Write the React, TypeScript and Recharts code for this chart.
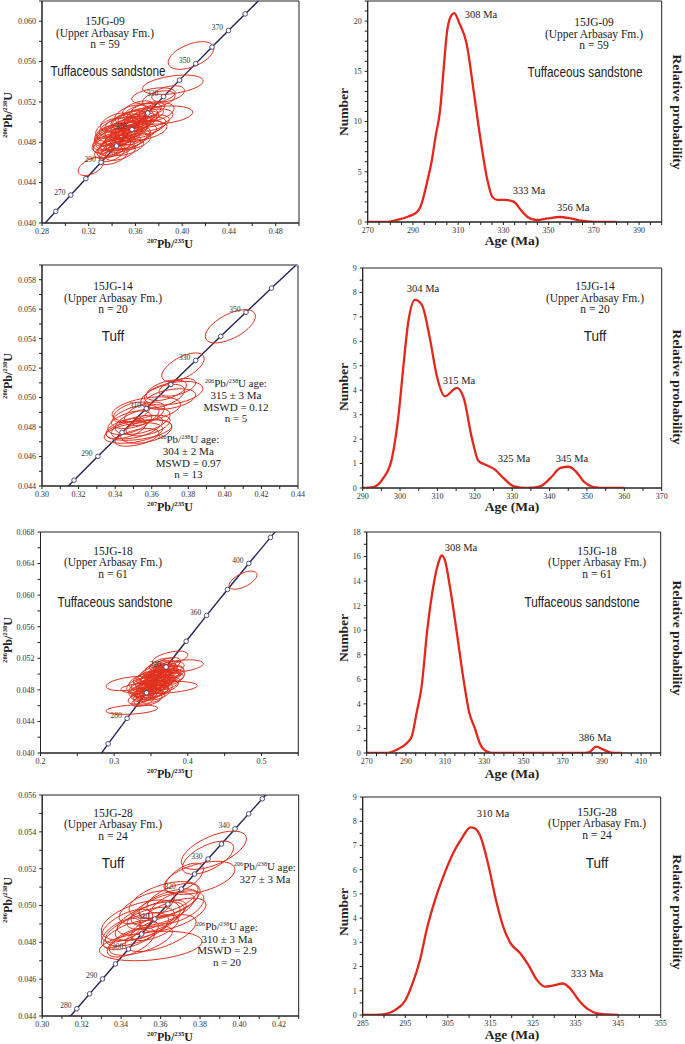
import React from 'react';
import { ScatterChart, LineChart, Scatter, Line, XAxis, YAxis, ReferenceArea } from 'recharts';

const SERIF = "'Liberation Serif', 'Times New Roman', serif";
const SANS = "'Liberation Sans', Arial, sans-serif";
const RED = '#e4261b';
const ELL = '#e1301d';
const NAVY = '#22235a';

// ---------------- Concordia reference points [age Ma, 207Pb/235U, 206Pb/238U]
const CONCORDIA: [number, number, number][] = [
  [240, 0.26664, 0.037932], [250, 0.27917, 0.039543], [260, 0.29183, 0.041157],
  [270, 0.30462, 0.042773], [275, 0.31106, 0.043582], [280, 0.31753, 0.044392],
  [285, 0.32403, 0.045202], [290, 0.33057, 0.046013], [295, 0.33714, 0.046825],
  [300, 0.34374, 0.047637], [305, 0.35037, 0.04845], [310, 0.35704, 0.049264],
  [315, 0.36373, 0.050078], [320, 0.37046, 0.050893], [325, 0.37723, 0.051708],
  [330, 0.38403, 0.052524], [335, 0.39086, 0.053341], [340, 0.39773, 0.054158],
  [345, 0.40463, 0.054976], [350, 0.41156, 0.055794], [355, 0.41853, 0.056614],
  [360, 0.42553, 0.057433], [370, 0.43964, 0.059075], [380, 0.45389, 0.060719],
  [390, 0.46828, 0.062366], [400, 0.48281, 0.064015], [410, 0.49749, 0.065667],
  [420, 0.51231, 0.067321], [440, 0.54239, 0.070637],
];

// ---------------- Panel 1: 15JG-09 concordia
const P1_AGES = [250, 260, 270, 280, 290, 300, 310, 320, 330, 340, 350, 360, 370, 380, 390];
const P1_AGE_LABELS = [270, 290, 310, 330, 350, 370];
const P1_X_TICKS = [0.28, 0.3, 0.32, 0.34, 0.36, 0.38, 0.4, 0.42, 0.44, 0.46, 0.48, 0.5];
const P1_X_LABELS = [0.28, 0.32, 0.36, 0.4, 0.44, 0.48];
const P1_Y_TICKS = [0.04, 0.042, 0.044, 0.046, 0.048, 0.05, 0.052, 0.054, 0.056, 0.058, 0.06, 0.062];
const P1_Y_LABELS = [0.04, 0.044, 0.048, 0.052, 0.056, 0.06];
// ellipses: [207/235, 206/238, half-width, half-height, rho]
const P1_ELLIPSES: number[][] = [
  [0.338, 0.0472, 0.013, 0.0008, 0.5], [0.342, 0.0476, 0.014, 0.0009, 0.5], [0.345, 0.0479, 0.015, 0.0008, 0.45],
  [0.34, 0.0481, 0.016, 0.0009, 0.5], [0.347, 0.0484, 0.013, 0.0008, 0.5], [0.35, 0.0486, 0.016, 0.0009, 0.55],
  [0.344, 0.0487, 0.018, 0.001, 0.5], [0.352, 0.0489, 0.014, 0.0008, 0.5], [0.348, 0.0491, 0.015, 0.0009, 0.5],
  [0.355, 0.0492, 0.016, 0.0009, 0.5], [0.352, 0.0494, 0.018, 0.001, 0.5], [0.358, 0.0495, 0.015, 0.0008, 0.5],
  [0.356, 0.0497, 0.017, 0.0009, 0.55], [0.36, 0.0498, 0.014, 0.0008, 0.5], [0.362, 0.05, 0.016, 0.0009, 0.5],
  [0.358, 0.0502, 0.018, 0.001, 0.5], [0.365, 0.0503, 0.015, 0.0008, 0.5], [0.362, 0.0505, 0.017, 0.0009, 0.5],
  [0.368, 0.0507, 0.016, 0.0008, 0.45], [0.383, 0.0507, 0.026, 0.0009, 0.3], [0.375, 0.0504, 0.017, 0.0009, 0.4],
  [0.366, 0.051, 0.016, 0.0009, 0.5], [0.37, 0.0512, 0.015, 0.0008, 0.5], [0.34, 0.0469, 0.011, 0.0008, 0.5],
  [0.338, 0.0474, 0.011, 0.0009, 0.5], [0.336, 0.0478, 0.012, 0.0009, 0.5], [0.338, 0.0483, 0.012, 0.001, 0.5],
  [0.338, 0.0486, 0.013, 0.001, 0.45], [0.342, 0.049, 0.015, 0.0009, 0.5], [0.346, 0.0495, 0.017, 0.001, 0.5],
  [0.35, 0.0499, 0.016, 0.0009, 0.5], [0.354, 0.0502, 0.015, 0.0009, 0.5], [0.345, 0.0474, 0.014, 0.0008, 0.5],
  [0.35, 0.0478, 0.015, 0.0008, 0.5], [0.354, 0.0482, 0.016, 0.0009, 0.5], [0.358, 0.0486, 0.015, 0.0009, 0.5],
  [0.362, 0.0489, 0.016, 0.0009, 0.5], [0.366, 0.0493, 0.017, 0.0009, 0.5], [0.37, 0.0496, 0.016, 0.0009, 0.45],
  [0.374, 0.0499, 0.015, 0.0008, 0.45], [0.341, 0.0466, 0.012, 0.0008, 0.5], [0.347, 0.047, 0.013, 0.0008, 0.5],
  [0.353, 0.0475, 0.014, 0.0008, 0.5], [0.36, 0.0481, 0.013, 0.0008, 0.5], [0.333, 0.048, 0.01, 0.001, 0.5],
  [0.336, 0.0488, 0.011, 0.0009, 0.5], [0.339, 0.0494, 0.013, 0.001, 0.5], [0.343, 0.05, 0.013, 0.0009, 0.5],
  [0.356, 0.0508, 0.014, 0.0009, 0.5], [0.362, 0.0513, 0.013, 0.0008, 0.5], [0.378, 0.051, 0.015, 0.0009, 0.4],
  [0.38, 0.0523, 0.014, 0.0008, 0.4], [0.322, 0.0456, 0.011, 0.0009, 0.5], [0.392, 0.0537, 0.026, 0.00096, 0.4],
  [0.3754, 0.0526, 0.0186, 0.0008, 0.4], [0.4075, 0.0566, 0.0195, 0.00137, 0.5], [0.388, 0.0528, 0.014, 0.0008, 0.4],
  [0.352, 0.0483, 0.02, 0.0011, 0.5], [0.365, 0.0491, 0.022, 0.001, 0.45],
];

// ---------------- Panel 3: 15JG-14 concordia
const P3_AGES = [270, 280, 290, 300, 310, 320, 330, 340, 350, 360, 370];
const P3_AGE_LABELS = [290, 310, 330, 350];
const P3_X_TICKS = [0.3, 0.31, 0.32, 0.33, 0.34, 0.35, 0.36, 0.37, 0.38, 0.39, 0.4, 0.41, 0.42, 0.43, 0.44];
const P3_X_LABELS = [0.3, 0.32, 0.34, 0.36, 0.38, 0.4, 0.42, 0.44];
const P3_Y_TICKS = [0.044, 0.045, 0.046, 0.047, 0.048, 0.049, 0.05, 0.051, 0.052, 0.053, 0.054, 0.055, 0.056, 0.057, 0.058, 0.059];
const P3_Y_LABELS = [0.044, 0.046, 0.048, 0.05, 0.052, 0.054, 0.056, 0.058];
const P3_ELLIPSES: number[][] = [
  [0.403, 0.05484, 0.0137, 0.00113, 0.6], [0.3771, 0.05206, 0.0116, 0.00097, 0.6],
  [0.368, 0.0505, 0.011, 0.0007, 0.5], [0.372, 0.0503, 0.016, 0.0008, 0.4], [0.366, 0.0501, 0.012, 0.0008, 0.5],
  [0.37, 0.0499, 0.014, 0.0007, 0.4], [0.374, 0.0507, 0.01, 0.0006, 0.5], [0.357, 0.0492, 0.0187, 0.00085, 0.4],
  [0.35, 0.0476, 0.016, 0.0007, 0.4], [0.352, 0.048, 0.014, 0.0008, 0.5], [0.348, 0.0483, 0.012, 0.0008, 0.5],
  [0.355, 0.0484, 0.015, 0.0009, 0.5], [0.351, 0.0487, 0.013, 0.0008, 0.5], [0.356, 0.0489, 0.011, 0.0008, 0.5],
  [0.353, 0.0478, 0.018, 0.0007, 0.4], [0.346, 0.0479, 0.011, 0.0007, 0.5], [0.358, 0.0481, 0.012, 0.0007, 0.5],
  [0.349, 0.049, 0.01, 0.0007, 0.5], [0.352, 0.0473, 0.012, 0.0006, 0.5], [0.357, 0.0477, 0.014, 0.0008, 0.4],
];

// ---------------- Panel 5: 15JG-18 concordia
const P5_AGES = [240, 260, 280, 300, 320, 340, 360, 380, 400, 420, 440];
const P5_AGE_LABELS = [280, 320, 360, 400];
const P5_X_TICKS = [0.2, 0.25, 0.3, 0.35, 0.4, 0.45, 0.5, 0.55];
const P5_X_LABELS = [0.2, 0.3, 0.4, 0.5];
const P5_Y_TICKS = [0.04, 0.042, 0.044, 0.046, 0.048, 0.05, 0.052, 0.054, 0.056, 0.058, 0.06, 0.062, 0.064, 0.066, 0.068];
const P5_Y_LABELS = [0.04, 0.044, 0.048, 0.052, 0.056, 0.06, 0.064, 0.068];
const P5_ELLIPSES: number[][] = [
  [0.324, 0.0455, 0.035, 0.0006, 0.3], [0.361, 0.0483, 0.052, 0.0008, 0.3], [0.322, 0.0488, 0.033, 0.0009, 0.4],
  [0.389, 0.051, 0.032, 0.0008, 0.4], [0.376, 0.052, 0.024, 0.0009, 0.5], [0.475, 0.0619, 0.019, 0.00115, 0.6],
  [0.345, 0.0478, 0.018, 0.0008, 0.5], [0.35, 0.0482, 0.02, 0.0009, 0.5], [0.352, 0.0486, 0.016, 0.0008, 0.5],
  [0.355, 0.0489, 0.022, 0.0009, 0.5], [0.358, 0.0492, 0.018, 0.0008, 0.5], [0.36, 0.0495, 0.02, 0.0009, 0.5],
  [0.362, 0.0498, 0.017, 0.0008, 0.5], [0.365, 0.05, 0.021, 0.0009, 0.5], [0.367, 0.0503, 0.018, 0.0008, 0.5],
  [0.37, 0.0505, 0.016, 0.0008, 0.5], [0.348, 0.049, 0.019, 0.0009, 0.5], [0.352, 0.0494, 0.017, 0.0008, 0.5],
  [0.356, 0.0497, 0.02, 0.0009, 0.5], [0.359, 0.05, 0.018, 0.0008, 0.5], [0.363, 0.0503, 0.019, 0.0009, 0.5],
  [0.34, 0.0475, 0.017, 0.0008, 0.5], [0.343, 0.0481, 0.02, 0.0009, 0.5], [0.346, 0.0485, 0.016, 0.0008, 0.5],
  [0.338, 0.0483, 0.018, 0.0009, 0.5], [0.335, 0.0479, 0.015, 0.0008, 0.5], [0.342, 0.0472, 0.016, 0.0007, 0.5],
  [0.348, 0.0474, 0.018, 0.0008, 0.5], [0.354, 0.0478, 0.02, 0.0008, 0.5], [0.357, 0.0483, 0.017, 0.0008, 0.5],
  [0.361, 0.0487, 0.019, 0.0009, 0.5], [0.366, 0.0491, 0.018, 0.0008, 0.5], [0.37, 0.0495, 0.02, 0.0009, 0.5],
  [0.373, 0.0499, 0.017, 0.0008, 0.5], [0.368, 0.0509, 0.015, 0.0008, 0.5], [0.372, 0.0512, 0.018, 0.0009, 0.5],
  [0.375, 0.0508, 0.02, 0.0008, 0.4], [0.378, 0.0503, 0.016, 0.0008, 0.4], [0.345, 0.0496, 0.015, 0.0008, 0.5],
  [0.35, 0.05, 0.017, 0.0009, 0.5], [0.355, 0.0505, 0.016, 0.0008, 0.5], [0.36, 0.0508, 0.018, 0.0009, 0.5],
  [0.364, 0.0512, 0.016, 0.0008, 0.5], [0.336, 0.047, 0.017, 0.0008, 0.5], [0.339, 0.0466, 0.015, 0.0007, 0.5],
  [0.346, 0.0468, 0.019, 0.0008, 0.4], [0.352, 0.0471, 0.017, 0.0008, 0.5], [0.358, 0.0475, 0.018, 0.0008, 0.5],
  [0.363, 0.048, 0.016, 0.0008, 0.5], [0.368, 0.0484, 0.019, 0.0008, 0.5], [0.372, 0.0488, 0.017, 0.0008, 0.5],
  [0.376, 0.0493, 0.018, 0.0008, 0.5], [0.38, 0.0497, 0.016, 0.0008, 0.4], [0.333, 0.0486, 0.016, 0.0009, 0.5],
  [0.337, 0.0491, 0.017, 0.0009, 0.5], [0.341, 0.0494, 0.015, 0.0008, 0.5], [0.344, 0.0488, 0.021, 0.001, 0.5],
  [0.351, 0.0477, 0.022, 0.0009, 0.5], [0.358, 0.0489, 0.024, 0.001, 0.5], [0.366, 0.0496, 0.022, 0.001, 0.5],
  [0.371, 0.0501, 0.024, 0.0009, 0.4],
];

// ---------------- Panel 7: 15JG-28 concordia
const P7_AGES = [275, 280, 285, 290, 295, 300, 305, 310, 315, 320, 325, 330, 335, 340, 345, 350, 355];
const P7_AGE_LABELS = [280, 290, 300, 310, 320, 330, 340];
const P7_X_TICKS = [0.3, 0.31, 0.32, 0.33, 0.34, 0.35, 0.36, 0.37, 0.38, 0.39, 0.4, 0.41, 0.42, 0.43];
const P7_X_LABELS = [0.3, 0.32, 0.34, 0.36, 0.38, 0.4, 0.42];
const P7_Y_TICKS = [0.044, 0.045, 0.046, 0.047, 0.048, 0.049, 0.05, 0.051, 0.052, 0.053, 0.054, 0.055, 0.056];
const P7_Y_LABELS = [0.044, 0.046, 0.048, 0.05, 0.052, 0.054, 0.056];
const P7_ELLIPSES: number[][] = [
  [0.387, 0.053, 0.0165, 0.00104, 0.6], [0.384, 0.0526, 0.013, 0.0009, 0.6], [0.3797, 0.0515, 0.018, 0.0009, 0.5],
  [0.372, 0.0515, 0.0097, 0.0008, 0.6], [0.355, 0.0478, 0.026, 0.0008, 0.3], [0.345, 0.0484, 0.014, 0.0008, 0.6],
  [0.348, 0.0487, 0.016, 0.0009, 0.6], [0.352, 0.049, 0.015, 0.0009, 0.6], [0.355, 0.0493, 0.017, 0.0009, 0.6],
  [0.358, 0.0495, 0.015, 0.0008, 0.6], [0.361, 0.0498, 0.016, 0.0009, 0.6], [0.364, 0.0501, 0.015, 0.0008, 0.6],
  [0.366, 0.0504, 0.013, 0.0008, 0.6], [0.35, 0.0481, 0.016, 0.0008, 0.6], [0.343, 0.0489, 0.013, 0.0009, 0.6],
  [0.35, 0.0492, 0.02, 0.0011, 0.5], [0.36, 0.0485, 0.018, 0.001, 0.6], [0.366, 0.0495, 0.017, 0.0009, 0.6],
  [0.362, 0.0503, 0.018, 0.001, 0.5], [0.357, 0.0488, 0.012, 0.0007, 0.6], [0.345, 0.048, 0.012, 0.0008, 0.6],
  [0.368, 0.0499, 0.014, 0.0009, 0.5], [0.353, 0.0499, 0.014, 0.0009, 0.6], [0.34, 0.0485, 0.01, 0.0008, 0.6],
];

// ---------------- Probability density curves [age Ma, number]
const PDF_09: [number, number][] = [
  [270, 0], [278, 0], [283, 0.2], [288, 0.55], [291.8, 1.0], [293.3, 1.5], [296.5, 4.2], [298.4, 6.2], [300, 8.5],
  [302, 11.1], [303.5, 15], [305, 18.8], [306.6, 20.4], [308.3, 20.8], [310.5, 19.8], [313.7, 17.8], [317, 12.8],
  [319.9, 8.2], [322.9, 4.2], [325.1, 2.5], [327.3, 2.2], [331, 2.2], [334.7, 2.0], [337.7, 1.2], [340.7, 0.5],
  [344.4, 0.2], [349.6, 0.35], [354.7, 0.5], [359.9, 0.35], [364.4, 0.13], [370.3, 0.02], [380, 0],
];
const PDF_14: [number, number][] = [
  [290, 0], [292.9, 0.04], [295.5, 0.4], [297.8, 1.2], [299.6, 3.0], [300.9, 5.0], [302.2, 6.8], [304, 7.7],
  [305.8, 7.5], [308, 6.1], [309.8, 4.6], [312, 3.75], [315.2, 4.1], [317, 3.7], [319.2, 2.05], [321, 1.1],
  [323.2, 0.93], [325.4, 0.75], [327.7, 0.4], [330.4, 0.07], [334, 0], [337.5, 0.07], [340.2, 0.4], [342.9, 0.82],
  [345.1, 0.87], [346.9, 0.7], [349.1, 0.27], [351.8, 0.04], [355, 0], [360, 0],
];
const PDF_18: [number, number][] = [
  [270, 0], [280, 0], [285.3, 0.27], [290.4, 0.8], [293, 1.36], [295.5, 3.3], [298, 5.4], [300.9, 10], [304, 13.6],
  [306.8, 15.6], [308.2, 16.1], [309.9, 15.7], [312.4, 13.6], [315.8, 10], [319.2, 6.2], [322.3, 3.3], [325.2, 2.0],
  [327.7, 0.8], [331.1, 0.14], [334.5, 0], [380, 0], [383.7, 0.08], [387, 0.52], [390.5, 0.3], [394.7, 0.03], [400, 0],
];
const PDF_28: [number, number][] = [
  [285, 0], [289.9, 0.03], [292.6, 0.2], [295, 0.6], [296.5, 1.2], [298.5, 2.3], [300, 3.5], [302, 4.75], [303.9, 5.7],
  [306.3, 6.7], [308.3, 7.3], [310.3, 7.75], [311.4, 7.7], [312.6, 7.4], [314.5, 6.2], [316.5, 4.6], [318, 3.65],
  [319.6, 3.0], [322, 2.55], [323.9, 2.07], [325.9, 1.45], [327.8, 1.17], [329.8, 1.22], [332, 1.3], [333.7, 1.1],
  [335.7, 0.62], [338, 0.23], [340, 0.07], [345, 0],
];

const P2_X_TICKS = [270, 275, 280, 285, 290, 295, 300, 305, 310, 315, 320, 325, 330, 335, 340, 345, 350, 355, 360, 365, 370, 375, 380, 385, 390, 395, 400];
const P2_X_LABELS = [270, 290, 310, 330, 350, 370, 390];
const P2_Y_TICKS = [0, 1, 2, 3, 4, 5, 6, 7, 8, 9, 10, 11, 12, 13, 14, 15, 16, 17, 18, 19, 20, 21, 22];
const P2_Y_LABELS = [0, 5, 10, 15, 20];
const P4_X_TICKS = [290, 295, 300, 305, 310, 315, 320, 325, 330, 335, 340, 345, 350, 355, 360, 365, 370];
const P4_X_LABELS = [290, 300, 310, 320, 330, 340, 350, 360, 370];
const P4_Y_TICKS = [0, 0.5, 1, 1.5, 2, 2.5, 3, 3.5, 4, 4.5, 5, 5.5, 6, 6.5, 7, 7.5, 8, 8.5, 9];
const P4_Y_LABELS = [0, 1, 2, 3, 4, 5, 6, 7, 8, 9];
const P6_X_TICKS = [270, 275, 280, 285, 290, 295, 300, 305, 310, 315, 320, 325, 330, 335, 340, 345, 350, 355, 360, 365, 370, 375, 380, 385, 390, 395, 400, 405, 410, 415, 420];
const P6_X_LABELS = [270, 290, 310, 330, 350, 370, 390, 410];
const P6_Y_TICKS = [0, 1, 2, 3, 4, 5, 6, 7, 8, 9, 10, 11, 12, 13, 14, 15, 16, 17, 18];
const P6_Y_LABELS = [0, 2, 4, 6, 8, 10, 12, 14, 16, 18];
const P8_X_TICKS = [285, 290, 295, 300, 305, 310, 315, 320, 325, 330, 335, 340, 345, 350, 355];
const P8_X_LABELS = [285, 295, 305, 315, 325, 335, 345, 355];
const P8_Y_TICKS = [0, 0.5, 1, 1.5, 2, 2.5, 3, 3.5, 4, 4.5, 5, 5.5, 6, 6.5, 7, 7.5, 8, 8.5, 9];
const P8_Y_LABELS = [0, 1, 2, 3, 4, 5, 6, 7, 8, 9];

// ---------------- Texts
const FM = '(Upper Arbasay Fm.)';
const S09 = ['15JG-09', FM, 'n = 59'];
const S14 = ['15JG-14', FM, 'n = 20'];
const S18 = ['15JG-18', FM, 'n = 61'];
const S28 = ['15JG-28', FM, 'n = 24'];
const PEAKS_09 = ['308 Ma', '333 Ma', '356 Ma'];
const PEAKS_14 = ['304 Ma', '315 Ma', '325 Ma', '345 Ma'];
const PEAKS_18 = ['308 Ma', '386 Ma'];
const PEAKS_28 = ['310 Ma', '333 Ma'];
const AGE_14A = ['315 ± 3 Ma', 'MSWD = 0.12', 'n = 5'];
const AGE_14B = ['304 ± 2 Ma', 'MSWD = 0.97', 'n = 13'];
const AGE_28A = ['327 ± 3 Ma'];
const AGE_28B = ['310 ± 3 Ma', 'MSWD = 2.9', 'n = 20'];

// ---------------- helpers
const N_SEG = 40;
function ellipsePoints(list: number[][]) {
  const pts: { x: number; y: number }[] = [];
  list.forEach(([cx, cy, sx, sy, r]) => {
    for (let k = 0; k <= N_SEG; k++) {
      const t = (k / N_SEG) * 2 * Math.PI;
      pts.push({
        x: cx + sx * Math.cos(t),
        y: cy + sy * (r * Math.cos(t) + Math.sqrt(1 - r * r) * Math.sin(t)),
      });
    }
  });
  return pts;
}

const ellipseLine = (props: any) => {
  const pts = props.points || [];
  const paths: any[] = [];
  for (let i = 0; i + N_SEG < pts.length; i += N_SEG + 1) {
    const seg = pts.slice(i, i + N_SEG + 1);
    const d = seg.map((p: any, j: number) => `${j ? 'L' : 'M'}${p.x.toFixed(2)},${p.y.toFixed(2)}`).join('') + 'Z';
    paths.push(<path key={i} d={d} fill="none" stroke={ELL} strokeWidth={1} />);
  }
  return <g>{paths}</g>;
};

const blank = () => <g />;

const markerShape = (props: any) => {
  const { cx, cy, payload } = props;
  if (cx == null || cy == null || isNaN(cx) || isNaN(cy)) return <g />;
  return (
    <g>
      <circle cx={cx} cy={cy} r={2.3} fill="#fff" stroke="#3c4070" strokeWidth={0.9} />
      {payload && payload.label ? (
        <text x={cx - 11} y={cy - 0.5} textAnchor="middle" fontSize={7.5} fontFamily={SERIF} fill="#333">
          {payload.label}
        </text>
      ) : null}
    </g>
  );
};

const near = (a: number, b: number) => Math.abs(a - b) < 1e-7;
const fmtFor = (labels: number[], digits: number | null) => (v: number) => {
  if (!labels.some((l) => near(l, v))) return '';
  return digits == null ? String(Math.round(v)) : v.toFixed(digits);
};

const TICK_STYLE = { fontSize: 8, fontFamily: SERIF, fill: '#333' };
const TOP = 7;
const EXTRA_R = 14;

type Box = { l: number; r: number; t: number; b: number };

function ConcordiaPanel(p: {
  box: Box; xDomain: [number, number]; yDomain: [number, number];
  xTicks: number[]; xLabels: number[]; xDigits: number; yTicks: number[]; yLabels: number[];
  ages: number[]; ageLabels: number[]; ellipses: number[][];
}) {
  const { box } = p;
  const width = Math.ceil(box.r) + EXTRA_R;
  const height = Math.round(box.b - box.t) + TOP + 30;
  const concPts = p.ages.map((a) => {
    const c = CONCORDIA.find((r) => r[0] === a)!;
    return { x: c[1], y: c[2], label: p.ageLabels.includes(a) ? String(a) : '' };
  });
  const ellPts = ellipsePoints(p.ellipses);
  return (
    <div style={{ position: 'absolute', left: 0, top: box.t - TOP }}>
      <ScatterChart width={width} height={height} margin={{ top: TOP, right: width - box.r, bottom: 0, left: 0 }}>
        <XAxis type="number" dataKey="x" domain={p.xDomain} allowDataOverflow ticks={p.xTicks} interval={0}
          tickFormatter={fmtFor(p.xLabels, p.xDigits)} height={30} tickSize={3} tick={TICK_STYLE} stroke="#222" />
        <YAxis type="number" dataKey="y" domain={p.yDomain} allowDataOverflow ticks={p.yTicks} interval={0}
          tickFormatter={fmtFor(p.yLabels, 3)} width={box.l} tickSize={3} tickMargin={3} tick={TICK_STYLE} stroke="#222" />
        <ReferenceArea x1={p.xDomain[0]} x2={p.xDomain[1]} y1={p.yDomain[0]} y2={p.yDomain[1]} fill="none"
          fillOpacity={0} stroke="#222" strokeWidth={1} ifOverflow="visible" />
        <Scatter data={concPts} line={{ stroke: NAVY, strokeWidth: 1.4 }} lineType="joint" shape={blank} isAnimationActive={false} />
        <Scatter data={ellPts} line={ellipseLine} lineType="joint" shape={blank} isAnimationActive={false} />
        <Scatter data={concPts} shape={markerShape} isAnimationActive={false} />
      </ScatterChart>
    </div>
  );
}

function PdfPanel(p: {
  box: Box; data: [number, number][]; xDomain: [number, number]; yDomain: [number, number];
  xTicks: number[]; xLabels: number[]; yTicks: number[]; yLabels: number[];
}) {
  const { box } = p;
  const ox = 300;
  const width = Math.ceil(box.r - ox) + EXTRA_R;
  const height = Math.round(box.b - box.t) + TOP + 30;
  const rows = p.data.map(([age, v]) => ({ age, v }));
  return (
    <div style={{ position: 'absolute', left: ox, top: box.t - TOP }}>
      <LineChart width={width} height={height} data={rows} margin={{ top: TOP, right: width - (box.r - ox), bottom: 0, left: 0 }}>
        <XAxis type="number" dataKey="age" domain={p.xDomain} allowDataOverflow ticks={p.xTicks} interval={0}
          tickFormatter={fmtFor(p.xLabels, null)} height={30} tickSize={3} tick={TICK_STYLE} stroke="#222" />
        <YAxis type="number" domain={p.yDomain} allowDataOverflow ticks={p.yTicks} interval={0}
          tickFormatter={fmtFor(p.yLabels, null)} width={box.l - ox} tickSize={3} tickMargin={3} tick={TICK_STYLE} stroke="#222" />
        <ReferenceArea x1={p.xDomain[0]} x2={p.xDomain[1]} y1={p.yDomain[0]} y2={p.yDomain[1]} fill="none"
          fillOpacity={0} stroke="#222" strokeWidth={1} ifOverflow="visible" />
        <Line dataKey="v" type="monotone" stroke={RED} strokeWidth={2.3} dot={false} isAnimationActive={false} />
      </LineChart>
    </div>
  );
}

function Txt(p: { x: number; y: number; size?: number; bold?: boolean; family?: string; rot?: number; sx?: number; children: any }) {
  const { x, y, size = 11.5, bold = false, family = SERIF, rot = 0, sx = 1 } = p;
  return (
    <div style={{
      position: 'absolute', left: x, top: y, transform: `translate(-50%, -50%) rotate(${rot}deg) scaleX(${sx})`,
      fontSize: size, fontFamily: family, fontWeight: bold ? 'bold' : 'normal', lineHeight: 1, whiteSpace: 'nowrap', color: '#222',
    }}>{p.children}</div>
  );
}

const SUP = { fontSize: '0.55em', verticalAlign: '0.7em' } as const;
const Iso = ({ a, b }: { a: string; b: string }) => (
  <span><span style={SUP}>{a}</span>Pb/<span style={SUP}>{b}</span>U</span>
);

function SampleBlock({ x, y, lines }: { x: number; y: number; lines: string[] }) {
  return (
    <>
      {lines.map((s, i) => <Txt key={i} x={x} y={y + i * 11.3}>{s}</Txt>)}
    </>
  );
}

function AgeBlock({ x, y, lines }: { x: number; y: number; lines: string[] }) {
  return (
    <>
      <Txt x={x} y={y} size={11}><Iso a="206" b="238" /> age:</Txt>
      {lines.map((s, i) => <Txt key={i} x={x} y={y + (i + 1) * 11.6} size={11}>{s}</Txt>)}
    </>
  );
}

function PdfLabels({ yc, ageY }: { yc: number; ageY: number }) {
  return (
    <>
      <Txt x={344} y={yc} size={13.5} bold rot={-90}>Number</Txt>
      <Txt x={677} y={yc} size={13.5} bold rot={90}>Relative probability</Txt>
      <Txt x={512} y={ageY} size={13.5} bold>Age (Ma)</Txt>
    </>
  );
}

function ConcLabels({ xc, xy, yy }: { xc: number; xy: number; yy: number }) {
  return (
    <>
      <Txt x={xc} y={xy} size={12} bold><Iso a="207" b="235" /></Txt>
      <Txt x={8} y={yy} size={12} bold rot={-90}><Iso a="206" b="238" /></Txt>
    </>
  );
}

export default function App() {
  return (
    <div style={{ position: 'absolute', left: 0, top: 0, width: 685, height: 1044, background: '#fff', overflow: 'hidden' }}>
      {/* Row 1 */}
      <ConcordiaPanel box={{ l: 42, r: 299, t: 1, b: 222.5 }} xDomain={[0.28, 0.5]} yDomain={[0.04, 0.062]}
        xTicks={P1_X_TICKS} xLabels={P1_X_LABELS} xDigits={2} yTicks={P1_Y_TICKS} yLabels={P1_Y_LABELS}
        ages={P1_AGES} ageLabels={P1_AGE_LABELS} ellipses={P1_ELLIPSES} />
      <PdfPanel box={{ l: 367.7, r: 661.7, t: 1, b: 222 }} data={PDF_09} xDomain={[270, 400]} yDomain={[0, 22]}
        xTicks={P2_X_TICKS} xLabels={P2_X_LABELS} yTicks={P2_Y_TICKS} yLabels={P2_Y_LABELS} />
      {/* Row 2 */}
      <ConcordiaPanel box={{ l: 42, r: 298, t: 265, b: 486.3 }} xDomain={[0.3, 0.44]} yDomain={[0.044, 0.059]}
        xTicks={P3_X_TICKS} xLabels={P3_X_LABELS} xDigits={2} yTicks={P3_Y_TICKS} yLabels={P3_Y_LABELS}
        ages={P3_AGES} ageLabels={P3_AGE_LABELS} ellipses={P3_ELLIPSES} />
      <PdfPanel box={{ l: 362.7, r: 661.7, t: 268.3, b: 488.3 }} data={PDF_14} xDomain={[290, 370]} yDomain={[0, 9]}
        xTicks={P4_X_TICKS} xLabels={P4_X_LABELS} yTicks={P4_Y_TICKS} yLabels={P4_Y_LABELS} />
      {/* Row 3 */}
      <ConcordiaPanel box={{ l: 40.5, r: 298.3, t: 532, b: 753.2 }} xDomain={[0.2, 0.55]} yDomain={[0.04, 0.068]}
        xTicks={P5_X_TICKS} xLabels={P5_X_LABELS} xDigits={1} yTicks={P5_Y_TICKS} yLabels={P5_Y_LABELS}
        ages={P5_AGES} ageLabels={P5_AGE_LABELS} ellipses={P5_ELLIPSES} />
      <PdfPanel box={{ l: 366.7, r: 660.7, t: 532.3, b: 753.3 }} data={PDF_18} xDomain={[270, 420]} yDomain={[0, 18]}
        xTicks={P6_X_TICKS} xLabels={P6_X_LABELS} yTicks={P6_Y_TICKS} yLabels={P6_Y_LABELS} />
      {/* Row 4 */}
      <ConcordiaPanel box={{ l: 42.2, r: 298.7, t: 795, b: 1015.5 }} xDomain={[0.3, 0.43]} yDomain={[0.044, 0.056]}
        xTicks={P7_X_TICKS} xLabels={P7_X_LABELS} xDigits={2} yTicks={P7_Y_TICKS} yLabels={P7_Y_LABELS}
        ages={P7_AGES} ageLabels={P7_AGE_LABELS} ellipses={P7_ELLIPSES} />
      <PdfPanel box={{ l: 362.7, r: 660.7, t: 797, b: 1015 }} data={PDF_28} xDomain={[285, 355]} yDomain={[0, 9]}
        xTicks={P8_X_TICKS} xLabels={P8_X_LABELS} yTicks={P8_Y_TICKS} yLabels={P8_Y_LABELS} />

      {/* Panel 1 texts */}
      <SampleBlock x={105} y={22.3} lines={S09} />
      <Txt x={108} y={71} size={14} family={SANS} sx={0.84}>Tuffaceous sandstone</Txt>
      <ConcLabels xc={170} xy={243.5} yy={115} />
      {/* Panel 2 texts */}
      <SampleBlock x={594} y={23.3} lines={S09} />
      <Txt x={585} y={71.7} size={14} family={SANS} sx={0.84}>Tuffaceous sandstone</Txt>
      <Txt x={481} y={15} size={10.5}>{PEAKS_09[0]}</Txt>
      <Txt x={529} y={190.7} size={10.5}>{PEAKS_09[1]}</Txt>
      <Txt x={573.3} y={208.3} size={10.5}>{PEAKS_09[2]}</Txt>
      <PdfLabels yc={112} ageY={241} />

      {/* Panel 3 texts */}
      <SampleBlock x={113} y={287.3} lines={S14} />
      <Txt x={113} y={335} size={15} family={SANS} sx={0.9}>Tuff</Txt>
      <AgeBlock x={236} y={383.3} lines={AGE_14A} />
      <AgeBlock x={188.3} y={439.3} lines={AGE_14B} />
      <ConcLabels xc={170} xy={507} yy={376} />
      {/* Panel 4 texts */}
      <SampleBlock x={595} y={287.3} lines={S14} />
      <Txt x={595} y={335} size={15} family={SANS} sx={0.9}>Tuff</Txt>
      <Txt x={423} y={289} size={10.5}>{PEAKS_14[0]}</Txt>
      <Txt x={459} y={381} size={10.5}>{PEAKS_14[1]}</Txt>
      <Txt x={514} y={459} size={10.5}>{PEAKS_14[2]}</Txt>
      <Txt x={572} y={459} size={10.5}>{PEAKS_14[3]}</Txt>
      <PdfLabels yc={387} ageY={507} />

      {/* Panel 5 texts */}
      <SampleBlock x={113} y={552} lines={S18} />
      <Txt x={115} y={602} size={14} family={SANS} sx={0.84}>Tuffaceous sandstone</Txt>
      <ConcLabels xc={170} xy={774} yy={640} />
      {/* Panel 6 texts */}
      <SampleBlock x={597} y={552} lines={S18} />
      <Txt x={582} y={602} size={14} family={SANS} sx={0.84}>Tuffaceous sandstone</Txt>
      <Txt x={461} y={548} size={10.5}>{PEAKS_18[0]}</Txt>
      <Txt x={595} y={738} size={10.5}>{PEAKS_18[1]}</Txt>
      <PdfLabels yc={638} ageY={774} />

      {/* Panel 7 texts */}
      <SampleBlock x={113} y={814} lines={S28} />
      <Txt x={113} y={862} size={15} family={SANS} sx={0.9}>Tuff</Txt>
      <AgeBlock x={265} y={867} lines={AGE_28A} />
      <AgeBlock x={227} y={927} lines={AGE_28B} />
      <ConcLabels xc={170} xy={1037} yy={900} />
      {/* Panel 8 texts */}
      <SampleBlock x={597} y={813} lines={S28} />
      <Txt x={597} y={862} size={15} family={SANS} sx={0.9}>Tuff</Txt>
      <Txt x={493} y={814} size={10.5}>{PEAKS_28[0]}</Txt>
      <Txt x={587} y={974} size={10.5}>{PEAKS_28[1]}</Txt>
      <PdfLabels yc={912} ageY={1035} />
    </div>
  );
}
